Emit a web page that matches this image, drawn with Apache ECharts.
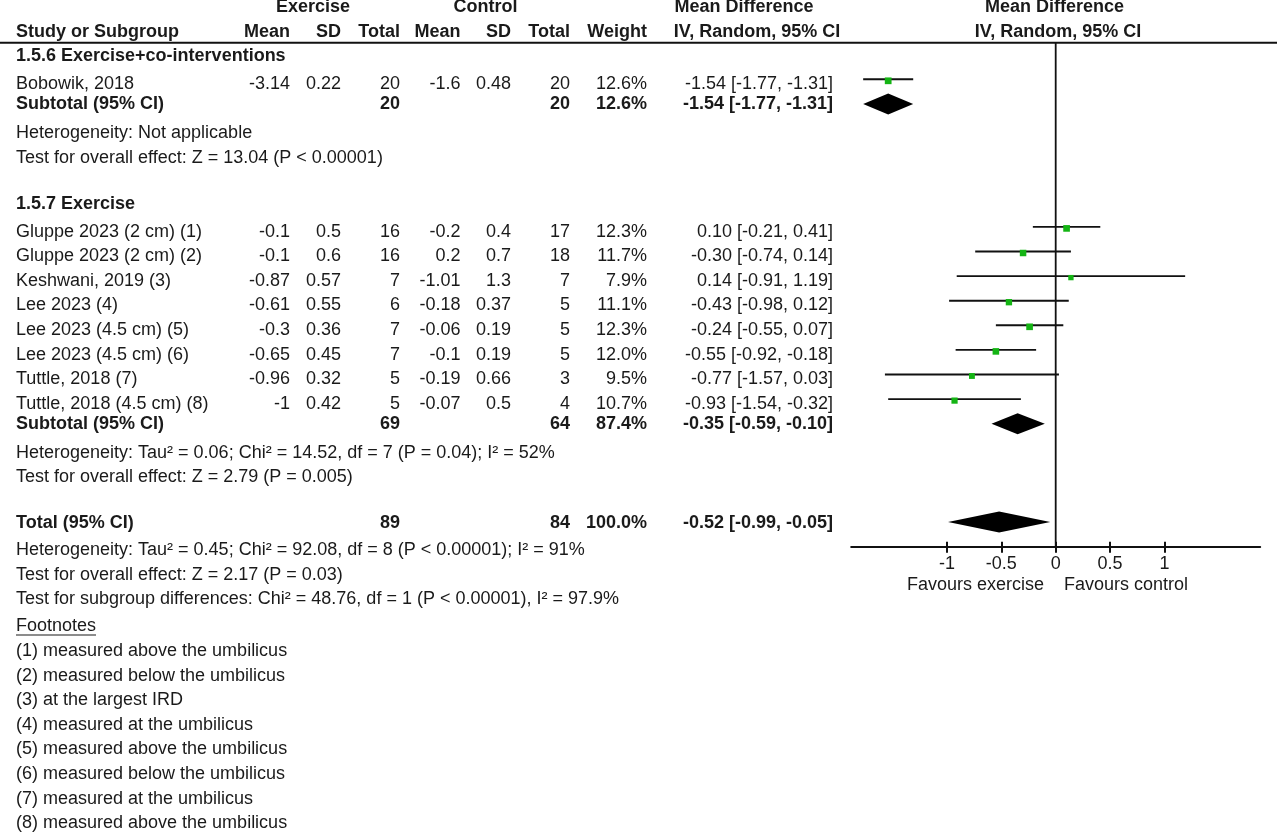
<!DOCTYPE html>
<html><head><meta charset="utf-8">
<script src="https://cdn.jsdelivr.net/npm/echarts@6/dist/echarts.min.js"></script>
<style>html,body{margin:0;padding:0;background:#fff}#c{width:1280px;height:836px}</style>
</head><body><div id="c"></div>
<script>
// ---------------- data ----------------
const studies = ['Bobowik, 2018','Gluppe 2023 (2 cm) (1)','Gluppe 2023 (2 cm) (2)','Keshwani, 2019 (3)','Lee 2023 (4)','Lee 2023 (4.5 cm) (5)','Lee 2023 (4.5 cm) (6)','Tuttle, 2018 (7)','Tuttle, 2018 (4.5 cm) (8)'];
const studyGroup = [0,1,1,1,1,1,1,1,1];
const exMean = [-3.14,-0.1,-0.1,-0.87,-0.61,-0.3,-0.65,-0.96,-1];
const exSD   = [0.22,0.5,0.6,0.57,0.55,0.36,0.45,0.32,0.42];
const exN    = [20,16,16,7,6,7,7,5,5];
const ctMean = [-1.6,-0.2,0.2,-1.01,-0.18,-0.06,-0.1,-0.19,-0.07];
const ctSD   = [0.48,0.4,0.7,1.3,0.37,0.19,0.19,0.66,0.5];
const ctN    = [20,17,18,7,5,5,5,3,4];
const weight = [12.6,12.3,11.7,7.9,11.1,12.3,12.0,9.5,10.7];
const md     = [-1.54,0.10,-0.30,0.14,-0.43,-0.24,-0.55,-0.77,-0.93];
const mdLo   = [-1.77,-0.21,-0.74,-0.91,-0.98,-0.55,-0.92,-1.57,-1.54];
const mdHi   = [-1.31,0.41,0.14,1.19,0.12,0.07,-0.18,0.03,-0.32];

const groupNames = ['1.5.6 Exercise+co-interventions','1.5.7 Exercise'];
const subExN = [20,69];
const subCtN = [20,64];
const subWeight = [12.6,87.4];
const subMd = [-1.54,-0.35];
const subLo = [-1.77,-0.59];
const subHi = [-1.31,-0.10];
const subHet = ['Heterogeneity: Not applicable','Heterogeneity: Tau² = 0.06; Chi² = 14.52, df = 7 (P = 0.04); I² = 52%'];
const subTest = ['Test for overall effect: Z = 13.04 (P < 0.00001)','Test for overall effect: Z = 2.79 (P = 0.005)'];

const totalExN = 89, totalCtN = 84, totalWeight = 100.0;
const totalMd = -0.52, totalLo = -0.99, totalHi = -0.05;
const totalHet = 'Heterogeneity: Tau² = 0.45; Chi² = 92.08, df = 8 (P < 0.00001); I² = 91%';
const totalTest = 'Test for overall effect: Z = 2.17 (P = 0.03)';
const subgroupTest = 'Test for subgroup differences: Chi² = 48.76, df = 1 (P < 0.00001), I² = 97.9%';
const footnotes = ['(1) measured above the umbilicus','(2) measured below the umbilicus','(3) at the largest IRD','(4) measured at the umbilicus','(5) measured above the umbilicus','(6) measured below the umbilicus','(7) measured at the umbilicus','(8) measured above the umbilicus'];

const tickValues = [-1,-0.5,0,0.5,1];
const favours = ['Favours exercise','Favours control'];

// ---------------- layout ----------------
const FONT = '"Liberation Sans", Arial, Helvetica, sans-serif';
const FS = 18;
const COLOR = '#1a1a1a';
const GREEN = '#14b414';
const ROW0 = 79.3, STEP = 24.6;          // plot row 0 pixel centre & row step
const Y_MIN = -1.5, Y_MAX = 19, X_MIN = -1.88, X_MAX = 1.88;
const col = {study:16, exMean:290, exSD:341, exN:400, ctMean:460.5, ctSD:511, ctN:570, weight:647, ci:833};

function fmtCI(m,l,h){ return m.toFixed(2)+' ['+l.toFixed(2)+', '+h.toFixed(2)+']'; }
function T(x,y,text,align,bold){
  return {type:'text', x:x, y:y, silent:true, z:10,
    style:{text:String(text), fill:COLOR, font:(bold?'bold ':'')+FS+'px '+FONT,
      align:align||'left', verticalAlign:'middle', textAlign:align||'left', textVerticalAlign:'middle'}};
}
const rowY = (r, off) => ROW0 + STEP*r + off;

const g = [];
// headers
g.push(T(313,7.5,'Exercise','center',true));
g.push(T(485.5,7.5,'Control','center',true));
g.push(T(744,7.5,'Mean Difference','center',true));
g.push(T(1054.5,7.5,'Mean Difference','center',true));
g.push(T(col.study,32,'Study or Subgroup','left',true));
g.push(T(col.exMean,32,'Mean','right',true));
g.push(T(col.exSD,32,'SD','right',true));
g.push(T(col.exN,32,'Total','right',true));
g.push(T(col.ctMean,32,'Mean','right',true));
g.push(T(col.ctSD,32,'SD','right',true));
g.push(T(col.ctN,32,'Total','right',true));
g.push(T(col.weight,32,'Weight','right',true));
g.push(T(757,32,'IV, Random, 95% CI','center',true));
g.push(T(1058,32,'IV, Random, 95% CI','center',true));
g.push({type:'line', silent:true, shape:{x1:0,y1:42.7,x2:1277,y2:42.7}, style:{stroke:'#111', lineWidth:2}});

// body rows
const studyRows = [], subRows = [];
let r = -1;
for (let gi=0; gi<groupNames.length; gi++){
  g.push(T(col.study, rowY(r,1.3), groupNames[gi], 'left', true));
  r++;
  for (let i=0;i<studies.length;i++){
    if (studyGroup[i]!==gi) continue;
    const y = rowY(r,4.8);
    studyRows[i] = r;
    g.push(T(col.study,y,studies[i],'left'));
    g.push(T(col.exMean,y,exMean[i],'right'));
    g.push(T(col.exSD,y,exSD[i],'right'));
    g.push(T(col.exN,y,exN[i],'right'));
    g.push(T(col.ctMean,y,ctMean[i],'right'));
    g.push(T(col.ctSD,y,ctSD[i],'right'));
    g.push(T(col.ctN,y,ctN[i],'right'));
    g.push(T(col.weight,y,weight[i].toFixed(1)+'%','right'));
    g.push(T(col.ci,y,fmtCI(md[i],mdLo[i],mdHi[i]),'right'));
    r++;
  }
  const ys = rowY(r,0.6);
  subRows[gi] = r;
  g.push(T(col.study,ys,'Subtotal (95% CI)','left',true));
  g.push(T(col.exN,ys,subExN[gi],'right',true));
  g.push(T(col.ctN,ys,subCtN[gi],'right',true));
  g.push(T(col.weight,ys,subWeight[gi].toFixed(1)+'%','right',true));
  g.push(T(col.ci,ys,fmtCI(subMd[gi],subLo[gi],subHi[gi]),'right',true));
  r++;
  g.push(T(col.study,rowY(r,4.5),subHet[gi],'left')); r++;
  g.push(T(col.study,rowY(r,4.5),subTest[gi],'left')); r++;
  r++; // blank row
}
const tr = r; // total row
const yt = rowY(tr, 0.6);
g.push(T(col.study,yt,'Total (95% CI)','left',true));
g.push(T(col.exN,yt,totalExN,'right',true));
g.push(T(col.ctN,yt,totalCtN,'right',true));
g.push(T(col.weight,yt,totalWeight.toFixed(1)+'%','right',true));
g.push(T(col.ci,yt,fmtCI(totalMd,totalLo,totalHi),'right',true));
g.push(T(col.study,rowY(tr+1,3.5),totalHet,'left'));
g.push(T(col.study,rowY(tr+2,3.5),totalTest,'left'));
g.push(T(col.study,rowY(tr+3,3.5),subgroupTest,'left'));
const fy = rowY(tr+4,6);
g.push(T(col.study,fy,'Footnotes','left'));
(function(){
  const cv = document.createElement('canvas').getContext('2d');
  cv.font = FS+'px '+FONT;
  const w = cv.measureText('Footnotes').width;
  g.push({type:'line', silent:true, shape:{x1:col.study,y1:fy+8.5,x2:col.study+w,y2:fy+8.5}, style:{stroke:COLOR, lineWidth:1.2}});
})();
footnotes.forEach((f,k)=>g.push(T(col.study,rowY(tr+5+k,6),f,'left')));

// favours labels
g.push(T(1044,585,favours[0],'right'));
g.push(T(1064,585,favours[1],'left'));

// ---------------- series data ----------------
const studyData = studies.map((s,i)=>[md[i], studyRows[i], mdLo[i], mdHi[i], weight[i]]);
const diamondData = subMd.map((m,i)=>[m, subRows[i], subLo[i], subHi[i]]).concat([[totalMd, tr, totalLo, totalHi]]);

const chart = echarts.init(document.getElementById('c'), null, {renderer:'canvas'});
const axisCommon = {type:'value', min:X_MIN, max:X_MAX, gridIndex:0, position:'bottom', splitLine:{show:false}};
chart.setOption({
  animation:false,
  backgroundColor:'#fff',
  grid:{left:851.2, width:409, top:ROW0 + STEP*Y_MIN, height:STEP*(Y_MAX-Y_MIN), containLabel:false},
  xAxis:[
    Object.assign({}, axisCommon, {
      axisLine:{show:true, onZero:false, lineStyle:{color:'#111', width:2}},
      axisTick:{show:true, customValues:tickValues, length:6, lineStyle:{color:'#111', width:2}},
      axisLabel:{show:true, customValues:tickValues, margin:8, color:COLOR, fontSize:FS, fontFamily:FONT}
    }),
    Object.assign({}, axisCommon, {
      axisLine:{show:false, onZero:false},
      axisTick:{show:true, inside:true, customValues:tickValues, length:5, lineStyle:{color:'#111', width:2}},
      axisLabel:{show:false}
    })
  ],
  yAxis:{type:'value', min:Y_MIN, max:Y_MAX, inverse:true, show:false, splitLine:{show:false}},
  series:[
    {type:'line', silent:true, symbol:'none', data:[[0,Y_MIN],[0,Y_MAX]], lineStyle:{color:'#111', width:1.8}, z:1},
    {type:'custom', silent:true, data:studyData, z:3,
      renderItem:function(params, api){
        const m=api.value(0), rr=api.value(1), lo=api.value(2), hi=api.value(3), w=api.value(4);
        const p0=api.coord([lo,rr]), p1=api.coord([hi,rr]), pm=api.coord([m,rr]);
        const s=1.9*Math.sqrt(w);
        return {type:'group', children:[
          {type:'line', shape:{x1:p0[0],y1:p0[1],x2:p1[0],y2:p1[1]}, style:{stroke:'#111', lineWidth:1.9}},
          {type:'rect', shape:{x:pm[0]-s/2, y:pm[1]-s/2+1.5, width:s, height:s}, style:{fill:GREEN}}
        ]};
      }},
    {type:'custom', silent:true, data:diamondData, z:3,
      renderItem:function(params, api){
        const m=api.value(0), rr=api.value(1), lo=api.value(2), hi=api.value(3);
        const pl=api.coord([lo,rr]), pr=api.coord([hi,rr]), pc=api.coord([m,rr]);
        const h=10.5;
        return {type:'polygon', shape:{points:[[pl[0],pc[1]],[pc[0],pc[1]-h],[pr[0],pc[1]],[pc[0],pc[1]+h]]}, style:{fill:'#000'}};
      }}
  ],
  graphic:g
});
</script></body></html>
